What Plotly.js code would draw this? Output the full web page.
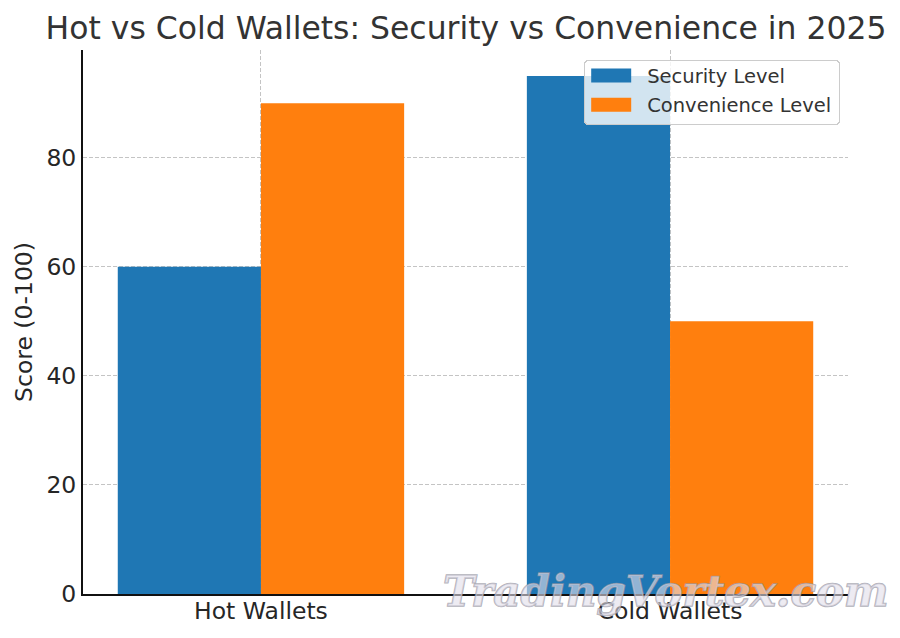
<!DOCTYPE html>
<html><head><meta charset="utf-8">
<script src="https://cdn.plot.ly/plotly-3.0.1.min.js"></script>
<style>
html,body{margin:0;padding:0;background:#fff}
.annotation-text{stroke:rgba(150,150,162,0.75);stroke-width:1.6px;paint-order:stroke}
</style></head><body>
<div id="chart" style="width:900px;height:638px"></div>
<script>
const categories = ["Hot Wallets", "Cold Wallets"];
const securityLevel = [60, 95];
const convenienceLevel = [90, 50];
const titleText = "Hot vs Cold Wallets: Security vs Convenience in 2025";
const yTitle = "Score (0-100)";
const watermark = "TradingVortex.com";
const font = "DejaVu Sans, sans-serif";

const traces = [
  {type:"bar", name:"Security Level", x:categories, y:securityLevel, marker:{color:"#1f77b4"}},
  {type:"bar", name:"Convenience Level", x:categories, y:convenienceLevel, marker:{color:"#ff7f0e"}}
];
const layout = {
  width:900, height:638, paper_bgcolor:"#fff", plot_bgcolor:"#fff",
  margin:{l:82.5, r:52, t:49.5, b:44},
  barmode:"group", bargap:0.3, bargroupgap:0,
  font:{family:font, color:"#262626"},
  title:{text:titleText, font:{family:font, size:31.45, color:"#333"}, x:466/900, xanchor:"center", y:0.956, yanchor:"middle"},
  xaxis:{type:"category", range:[-0.435,1.435], tickfont:{size:23.5}, ticks:"", ticklen:0, ticklabelstandoff:-5,
    showgrid:true, gridcolor:"#c4c4c4", griddash:"4px,2px", gridwidth:1, showline:true, linecolor:"#111", linewidth:2, zeroline:false},
  yaxis:{range:[0,99.75], tickvals:[0,20,40,60,80], tickfont:{size:23.5}, ticks:"",
    title:{text:yTitle, font:{size:23.5}, standoff:7},
    showgrid:true, gridcolor:"#c4c4c4", griddash:"4px,2px", gridwidth:1, showline:true, linecolor:"#111", linewidth:2, zeroline:false},
  legend:{x:0.6545, xanchor:"left", y:0.982, yanchor:"top", bgcolor:"rgba(255,255,255,0.8)", bordercolor:"#ccc", borderwidth:1.5,
    font:{size:19.5, color:"#333"}, itemwidth:51, traceorder:"normal"},
  annotations:[{text:watermark, showarrow:false, xref:"paper", yref:"paper", x:0.762, y:0.005,
    xanchor:"center", yanchor:"middle",
    font:{family:"DejaVu Serif, serif", size:42, color:"rgba(226,222,234,0.6)", weight:"bold", style:"italic"}}]
};
Plotly.newPlot("chart", traces, layout, {displayModeBar:false, staticPlot:true}).then(()=>{
  document.querySelectorAll(".legendpoints path").forEach(p=>p.setAttribute("d","M14.5,7H-25.5V-7H14.5Z"));
  const bg=document.querySelector(".legend .bg");
  if(bg){bg.setAttribute("rx",4);bg.setAttribute("ry",4);bg.setAttribute("width",255);bg.setAttribute("height",64);}
  const shifts=[[1,-5],[1,-4]];
  document.querySelectorAll(".legend .traces").forEach((g,i)=>{
    const m=/translate\(([-\d.]+)[, ]+([-\d.]+)\)/.exec(g.getAttribute("transform")||"");
    if(m) g.setAttribute("transform",`translate(${+m[1]+shifts[i][0]},${+m[2]+shifts[i][1]})`);
  });
});
</script></body></html>
